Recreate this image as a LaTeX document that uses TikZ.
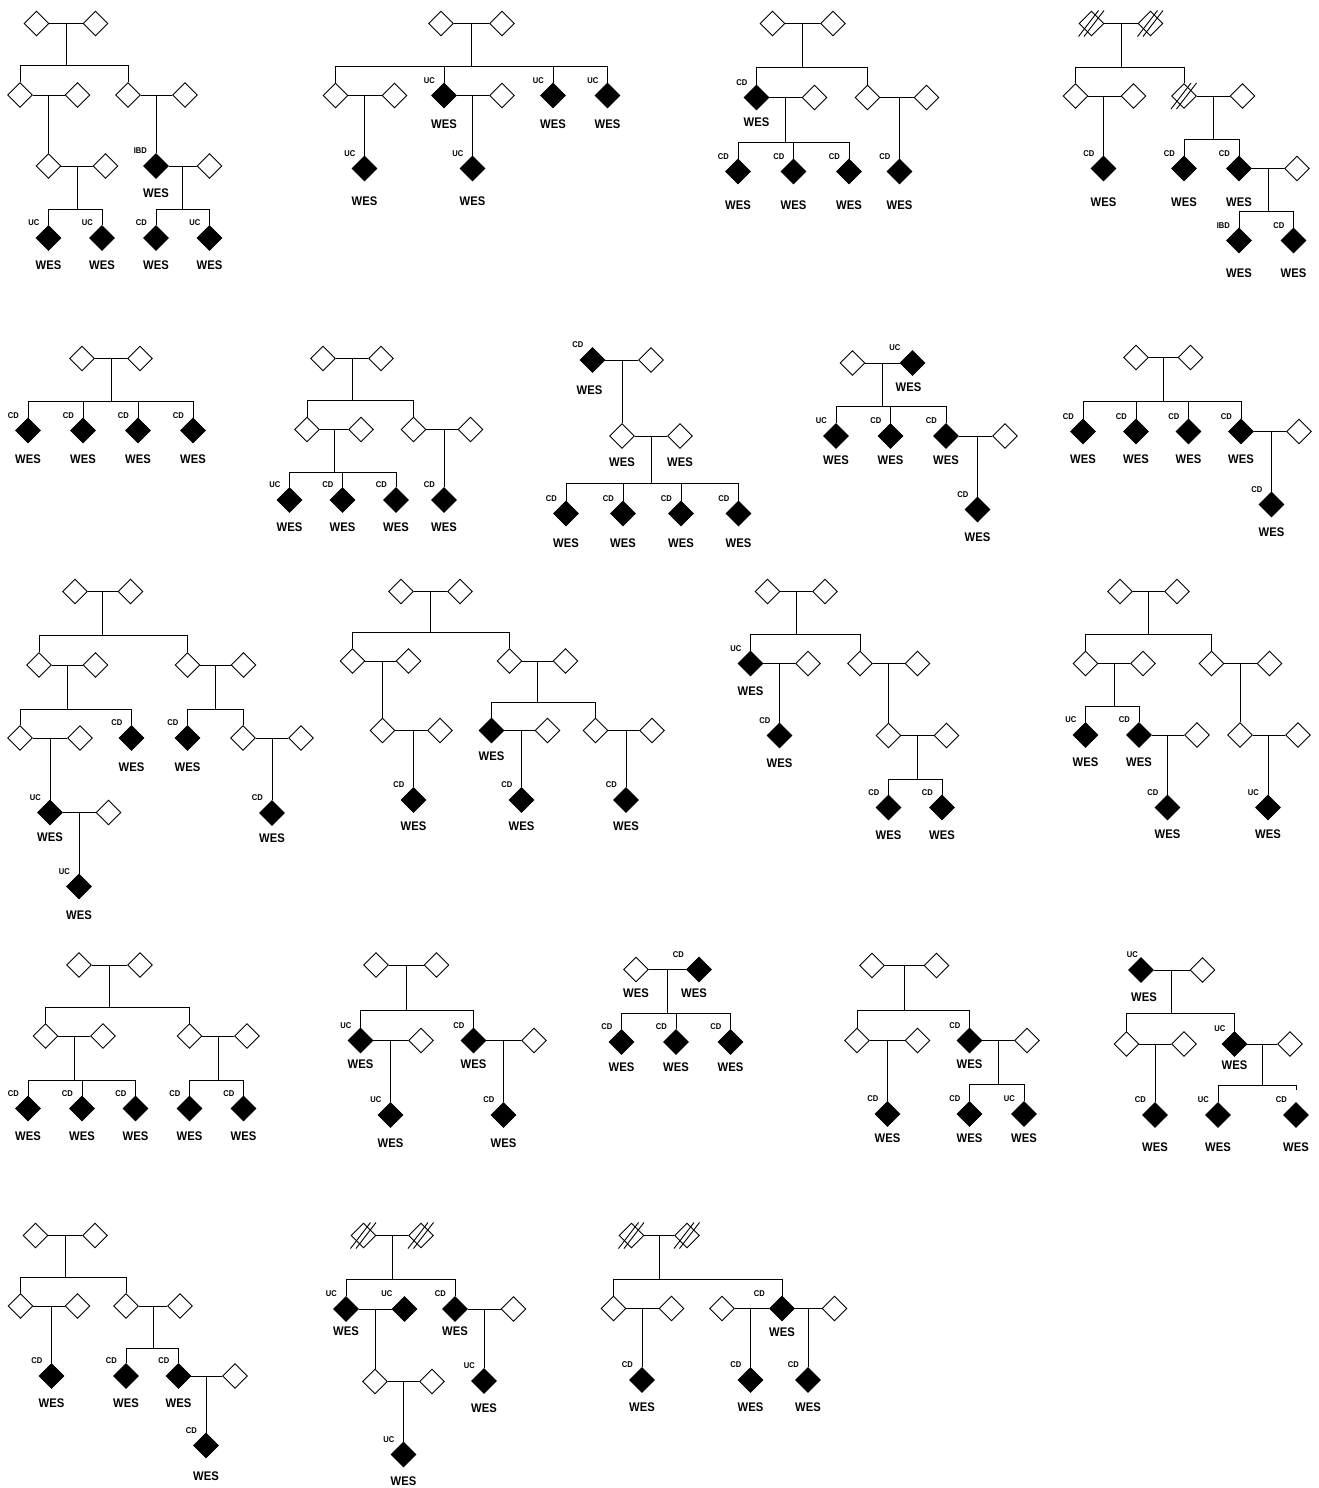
\documentclass[tikz,border=0pt]{standalone}
\usepackage{fontspec}
\usetikzlibrary{shapes.geometric,calc}
\newfontfamily\pedfont[FakeStretch=0.9]{Liberation Sans}
\newcommand\labfont{\pedfont\bfseries\fontsize{8.4}{9}\selectfont}
\newcommand\wesfont{\pedfont\bfseries\fontsize{12.5}{13}\selectfont}
\tikzset{
 ln/.style={line width=1pt},
 od/.style={shape=diamond, draw, line width=0.9pt, fill=white, inner sep=0pt, minimum width=25pt, minimum height=25pt},
 fd/.style={od, fill=black},
 lb/.style={font=\labfont, inner sep=0pt, anchor=east},
 wes/.style={font=\wesfont, inner sep=0pt},
 xl/.style={line width=0.9pt},
}
\newcommand\indO[3]{\node[od] (#1) at (#2,#3) {};}
\newcommand\indF[3]{\node[fd] (#1) at (#2,#3) {};}
\newcommand\lab[3][-9]{\node[lb] (#2l) at ([shift={(#1,-15)}]#2.center) {#3};}
\newcommand\wes[3][0]{\node[wes] (#2w) at ([shift={(#1,#3)}]#2.center) {WES};}
\newcommand\mar[2]{\draw[ln] (#1.east) -- (#2.west);}
\newcommand\kid[2]{\draw[ln] (#2.north) -- (#2.north |- #1.center);}
\newcommand\sib[4]{\coordinate (#1#2m) at ($(#1)!.5!(#2)$);
 \coordinate (#1#2s) at (#1#2m |- 0,#3);
 \draw[ln] (#1#2m) -- (#1#2s);
 \foreach \ch in {#4}{\draw[ln] (#1#2s) -| (\ch.north);}}
\newcommand\xed[1]{\draw[xl] ([shift={(-13,13)}]#1.center) -- ([shift={(7,-13)}]#1.center);
 \draw[xl] ([shift={(-7.5,13)}]#1.center) -- ([shift={(12.5,-13)}]#1.center);}
\begin{document}
\begin{tikzpicture}[x=1pt,y=-1pt]
\path[fill=white] (0,0) rectangle (1318,1488);
\useasboundingbox (0,0) rectangle (1318,1488);
% ---------- P1
\indO{a1}{36.5}{23.5}\indO{a2}{95.5}{23.5}
\indO{a3}{20}{95}\indO{a4}{77.5}{95}\indO{a5}{128}{95}\indO{a6}{185}{95}
\indO{a7}{48.5}{166}\indO{a8}{105.5}{166}
\indF{a9}{48.5}{238}\indF{a10}{102}{238}
\indF{a11}{156}{166}\indO{a12}{209.5}{166}
\indF{a13}{156}{238}\indF{a14}{209.5}{238}
\mar{a1}{a2}\mar{a3}{a4}\mar{a5}{a6}\mar{a7}{a8}\mar{a11}{a12}
\sib{a1}{a2}{66}{a3,a5}
\kid{a3}{a7}\kid{a5}{a11}
\sib{a7}{a8}{209}{a9,a10}
\sib{a11}{a12}{209}{a13,a14}
\lab{a9}{UC}\lab{a10}{UC}\lab{a11}{IBD}\lab{a13}{CD}\lab{a14}{UC}
\wes{a11}{27}\wes{a9}{27.5}\wes{a10}{27.5}\wes{a13}{27.5}\wes{a14}{27.5}
% ---------- P2
\indO{b1}{441}{23.5}\indO{b2}{502}{23.5}
\indO{b3}{335.5}{95.5}\indO{b4}{394.5}{95.5}\indF{b5}{444}{95.5}\indO{b6}{502}{95.5}
\indF{b7}{553}{95.5}\indF{b8}{607.5}{95.5}
\indF{b9}{364.5}{168.5}\indF{b10}{472.5}{168.5}
\mar{b1}{b2}\mar{b3}{b4}\mar{b5}{b6}
\sib{b1}{b2}{66.5}{b3,b5,b7,b8}
\kid{b3}{b9}\kid{b5}{b10}
\lab{b5}{UC}\lab{b7}{UC}\lab{b8}{UC}\lab{b9}{UC}\lab{b10}{UC}
\wes{b5}{28.5}\wes{b7}{28.5}\wes{b8}{28.5}\wes{b9}{32.5}\wes{b10}{32.5}
% ---------- P3
\indO{c1}{772.5}{23.5}\indO{c2}{833}{23.5}
\indF{c3}{756.5}{97.5}\indO{c4}{814.5}{97.5}\indO{c5}{867.5}{97.5}\indO{c6}{926.5}{97.5}
\indF{c7}{738}{171.5}\indF{c8}{793.5}{171.5}\indF{c9}{849}{171.5}\indF{c10}{899.5}{171.5}
\mar{c1}{c2}\mar{c3}{c4}\mar{c5}{c6}
\sib{c1}{c2}{67.5}{c3,c5}
\sib{c3}{c4}{142.5}{c7,c8,c9}
\kid{c5}{c10}
\lab{c3}{CD}\lab{c7}{CD}\lab{c8}{CD}\lab{c9}{CD}\lab{c10}{CD}
\wes{c3}{25}\wes{c7}{33.5}\wes{c8}{33.5}\wes{c9}{33.5}\wes{c10}{33.5}
% ---------- P4
\indO{d1}{1091.5}{23.5}\indO{d2}{1150.5}{23.5}
\indO{d3}{1075.5}{96}\indO{d4}{1133.5}{96}\indO{d5}{1184}{96}\indO{d6}{1242.5}{96}
\indF{d7}{1103.5}{168.5}\indF{d8}{1184}{168.5}\indF{d9}{1239}{168.5}\indO{d10}{1297}{168.5}
\indF{d11}{1239}{240.5}\indF{d12}{1293.5}{240.5}
\mar{d1}{d2}\mar{d3}{d4}\mar{d5}{d6}\mar{d9}{d10}
\sib{d1}{d2}{67.5}{d3,d5}
\kid{d3}{d7}
\sib{d5}{d6}{139.5}{d8,d9}
\sib{d9}{d10}{211.5}{d11,d12}
\xed{d1}\xed{d2}\xed{d5}
\lab{d7}{CD}\lab{d8}{CD}\lab{d9}{CD}\lab{d11}{IBD}\lab{d12}{CD}
\wes{d7}{34}\wes{d8}{34}\wes{d9}{34}\wes{d11}{33}\wes{d12}{33}
% ---------- P5
\indO{e1}{82}{358.5}\indO{e2}{140}{358.5}
\indF{e3}{28}{430.5}\indF{e4}{83}{430.5}\indF{e5}{138}{430.5}\indF{e6}{193}{430.5}
\mar{e1}{e2}
\sib{e1}{e2}{401.5}{e3,e4,e5,e6}
\lab{e3}{CD}\lab{e4}{CD}\lab{e5}{CD}\lab{e6}{CD}
\wes{e3}{28.5}\wes{e4}{28.5}\wes{e5}{28.5}\wes{e6}{28.5}
% ---------- P6
\indO{f1}{323}{358.5}\indO{f2}{381}{358.5}
\indO{f3}{307}{429.5}\indO{f4}{361}{429.5}\indO{f5}{413.5}{429.5}\indO{f6}{470.5}{429.5}
\indF{f7}{289.5}{500}\indF{f8}{342.5}{500}\indF{f9}{396}{500}\indF{f10}{444}{500}
\mar{f1}{f2}\mar{f3}{f4}\mar{f5}{f6}
\sib{f1}{f2}{400.5}{f3,f5}
\sib{f3}{f4}{472.5}{f7,f8,f9}
\kid{f5}{f10}
\lab{f7}{UC}\lab{f8}{CD}\lab{f9}{CD}\lab{f10}{CD}
\wes{f7}{27.5}\wes{f8}{27.5}\wes{f9}{27.5}\wes{f10}{27.5}
% ---------- P7
\indF{g1}{592.5}{360}\indO{g2}{651}{360}
\indO{g3}{622}{436}\indO{g4}{680}{436}
\indF{g5}{566}{513.5}\indF{g6}{623}{513.5}\indF{g7}{681}{513.5}\indF{g8}{738.5}{513.5}
\mar{g1}{g2}\mar{g3}{g4}
\kid{g1}{g3}
\sib{g3}{g4}{483.5}{g5,g6,g7,g8}
\lab{g1}{CD}\lab{g5}{CD}\lab{g6}{CD}\lab{g7}{CD}\lab{g8}{CD}
\wes[-3]{g1}{30.5}\wes{g3}{26}\wes{g4}{26}\wes{g5}{30}\wes{g6}{30}\wes{g7}{30}\wes{g8}{30}
% ---------- P8
\indO{h1}{852.5}{363}\indF{h2}{912.5}{363}
\indF{h3}{836}{436}\indF{h4}{890.5}{436}\indF{h5}{946}{436}\indO{h6}{1005}{436}
\indF{h7}{977.5}{509.5}
\mar{h1}{h2}\mar{h5}{h6}
\sib{h1}{h2}{406.5}{h3,h4,h5}
\kid{h5}{h7}
\lab[-12]{h2}{UC}\lab{h3}{UC}\lab{h4}{CD}\lab{h5}{CD}\lab{h7}{CD}
\wes[-4]{h2}{24}\wes{h3}{24}\wes{h4}{24}\wes{h5}{24}\wes{h7}{28}
% ---------- P9
\indO{i1}{1136}{357.5}\indO{i2}{1190.5}{357.5}
\indF{i3}{1083}{431.5}\indF{i4}{1136}{431.5}\indF{i5}{1188.5}{431.5}\indF{i6}{1241}{431.5}
\indO{i7}{1299}{431.5}\indF{i8}{1271.5}{504.5}
\mar{i1}{i2}\mar{i6}{i7}
\sib{i1}{i2}{401.5}{i3,i4,i5,i6}
\kid{i6}{i8}
\lab{i3}{CD}\lab{i4}{CD}\lab{i5}{CD}\lab{i6}{CD}\lab{i8}{CD}
\wes{i3}{28}\wes{i4}{28}\wes{i5}{28}\wes{i6}{28}\wes{i8}{28}
% ---------- P10
\indO{j1}{75}{591.5}\indO{j2}{130.5}{591.5}
\indO{j3}{39}{665}\indO{j4}{95.5}{665}\indO{j5}{187.5}{665}\indO{j6}{243.5}{665}
\indO{j7}{20}{738}\indO{j8}{80}{738}\indF{j9}{131.5}{738}
\indF{j10}{50}{812.5}\indO{j11}{108.5}{812.5}\indF{j12}{79}{886.5}
\indF{j13}{187.5}{738}\indO{j14}{243}{738}\indO{j15}{301}{738}\indF{j16}{272}{813}
\mar{j1}{j2}\mar{j3}{j4}\mar{j5}{j6}\mar{j7}{j8}\mar{j10}{j11}\mar{j14}{j15}
\sib{j1}{j2}{635.5}{j3,j5}
\sib{j3}{j4}{709.5}{j7,j9}
\sib{j5}{j6}{709.5}{j13,j14}
\kid{j7}{j10}\kid{j10}{j12}\kid{j14}{j16}
\lab{j9}{CD}\lab{j10}{UC}\lab{j12}{UC}\lab{j13}{CD}\lab{j16}{CD}
\wes{j9}{29.5}\wes{j10}{25}\wes{j12}{29}\wes{j13}{29.5}\wes{j16}{25}
% ---------- P11
\indO{k1}{401}{591.5}\indO{k2}{460}{591.5}
\indO{k3}{352.5}{661}\indO{k4}{408.5}{661}\indO{k5}{509.5}{661}\indO{k6}{565.5}{661}
\indO{k7}{382.5}{730.5}\indO{k8}{440}{730.5}\indF{k9}{413.5}{800}
\indF{k10}{491.5}{730.5}\indO{k11}{547.5}{730.5}\indF{k13}{521.5}{800}
\indO{k12}{595.5}{730.5}\indO{k14}{652}{730.5}\indF{k15}{626}{800}
\mar{k1}{k2}\mar{k3}{k4}\mar{k5}{k6}\mar{k7}{k8}\mar{k10}{k11}\mar{k12}{k14}
\sib{k1}{k2}{632.5}{k3,k5}
\kid{k3}{k7}\kid{k7}{k9}
\sib{k5}{k6}{702.5}{k10,k12}
\kid{k10}{k13}\kid{k12}{k15}
\lab{k9}{CD}\lab{k13}{CD}\lab{k15}{CD}
\wes{k9}{26}\wes{k10}{25.5}\wes{k13}{26}\wes{k15}{26}
% ---------- P12
\indO{l1}{767.5}{591.5}\indO{l2}{825}{591.5}
\indF{l3}{750.5}{663.5}\indO{l4}{808}{663.5}\indO{l5}{860}{663.5}\indO{l6}{917.5}{663.5}
\indF{l7}{779.5}{735.5}\indO{l8}{888.5}{735.5}\indO{l9}{946.5}{735.5}
\indF{l10}{888.5}{807.5}\indF{l11}{942}{807.5}
\mar{l1}{l2}\mar{l3}{l4}\mar{l5}{l6}\mar{l8}{l9}
\sib{l1}{l2}{634.5}{l3,l5}
\kid{l3}{l7}\kid{l5}{l8}
\sib{l8}{l9}{779}{l10,l11}
\lab{l3}{UC}\lab{l7}{CD}\lab{l10}{CD}\lab{l11}{CD}
\wes{l3}{27.5}\wes{l7}{27.5}\wes{l10}{28}\wes{l11}{28}
% ---------- P13
\indO{m1}{1120}{591.5}\indO{m2}{1177}{591.5}
\indO{m3}{1085.5}{663.5}\indO{m4}{1143}{663.5}\indO{m5}{1211.5}{663.5}\indO{m6}{1269.5}{663.5}
\indF{m7}{1085.5}{735}\indF{m8}{1139}{735}\indO{m9}{1197}{735}\indF{m10}{1167.5}{807.5}
\indO{m11}{1240}{735}\indO{m12}{1298}{735}\indF{m13}{1268}{807.5}
\mar{m1}{m2}\mar{m3}{m4}\mar{m5}{m6}\mar{m8}{m9}\mar{m11}{m12}
\sib{m1}{m2}{634.5}{m3,m5}
\sib{m3}{m4}{706}{m7,m8}
\kid{m8}{m10}\kid{m5}{m11}\kid{m11}{m13}
\lab{m7}{UC}\lab{m8}{CD}\lab{m10}{CD}\lab{m13}{UC}
\wes{m7}{27}\wes{m8}{27}\wes{m10}{26.5}\wes{m13}{26.5}
% ---------- P14
\indO{n1}{79}{965}\indO{n2}{140}{965}
\indO{n3}{45.5}{1036}\indO{n4}{103}{1036}\indO{n5}{189.5}{1036}\indO{n6}{247}{1036}
\indF{n7}{28}{1108.5}\indF{n8}{82}{1108.5}\indF{n9}{135.5}{1108.5}
\indF{n10}{189.5}{1108.5}\indF{n11}{243.5}{1108.5}
\mar{n1}{n2}\mar{n3}{n4}\mar{n5}{n6}
\sib{n1}{n2}{1007.5}{n3,n5}
\sib{n3}{n4}{1080}{n7,n8,n9}
\sib{n5}{n6}{1080}{n10,n11}
\lab{n7}{CD}\lab{n8}{CD}\lab{n9}{CD}\lab{n10}{CD}\lab{n11}{CD}
\wes{n7}{28}\wes{n8}{28}\wes{n9}{28}\wes{n10}{28}\wes{n11}{28}
% ---------- P15
\indO{o1}{376}{965}\indO{o2}{436.5}{965}
\indF{o3}{360.5}{1040.5}\indO{o4}{421}{1040.5}\indF{o5}{473.5}{1040.5}\indO{o6}{534}{1040.5}
\indF{o7}{390.5}{1115}\indF{o8}{503.5}{1115}
\mar{o1}{o2}\mar{o3}{o4}\mar{o5}{o6}
\sib{o1}{o2}{1010}{o3,o5}
\kid{o3}{o7}\kid{o5}{o8}
\lab{o3}{UC}\lab{o5}{CD}\lab{o7}{UC}\lab{o8}{CD}
\wes{o3}{23.5}\wes{o5}{23.5}\wes{o7}{28.5}\wes{o8}{28.5}
% ---------- P16
\indO{q1}{636}{969.5}\indF{q2}{699}{969.5}
\indF{q3}{621.5}{1042}\indF{q4}{676}{1042}\indF{q5}{730.5}{1042}
\mar{q1}{q2}
\sib{q1}{q2}{1013.5}{q3,q4,q5}
\lab[-15]{q2}{CD}\lab{q3}{CD}\lab{q4}{CD}\lab{q5}{CD}
\wes{q1}{24}\wes[-5]{q2}{24}\wes{q3}{25}\wes{q4}{25}\wes{q5}{25}
% ---------- P17
\indO{r1}{872}{965.5}\indO{r2}{936.5}{965.5}
\indO{r3}{857}{1040.5}\indO{r4}{917.5}{1040.5}\indF{r5}{969.5}{1040.5}\indO{r6}{1027}{1040.5}
\indF{r7}{887.5}{1114}\indF{r8}{969.5}{1114}\indF{r9}{1024}{1114}
\mar{r1}{r2}\mar{r3}{r4}\mar{r5}{r6}
\sib{r1}{r2}{1010}{r3,r5}
\kid{r3}{r7}
\sib{r5}{r6}{1084}{r8,r9}
\lab{r5}{CD}\lab{r7}{CD}\lab{r8}{CD}\lab{r9}{UC}
\wes{r5}{23.5}\wes{r7}{24.5}\wes{r8}{24.5}\wes{r9}{24.5}
% ---------- P18
\indF{t1}{1141}{970}\indO{t2}{1202.5}{970}
\indO{t3}{1126.5}{1044}\indO{t4}{1184}{1044}\indF{t5}{1234.5}{1044}\indO{t6}{1290}{1044}
\indF{t7}{1155}{1115}\indF{t8}{1218}{1115}\indF{t9}{1296}{1115}
\mar{t1}{t2}\mar{t3}{t4}\mar{t5}{t6}
\sib{t1}{t2}{1013.5}{t3,t5}
\kid{t3}{t7}
\sib{t5}{t6}{1085}{t8}
\coordinate (t9s) at (t9.north |- 0,1090);
\draw[ln] (t5t6s) -| (t9s);
\lab[-3]{t1}{UC}\lab{t5}{UC}\lab{t7}{CD}\lab{t8}{UC}\lab{t9}{CD}
\wes[3]{t1}{27}\wes{t5}{21}\wes{t7}{32}\wes{t8}{32}\wes{t9}{32}
% ---------- P19
\indO{u1}{35.5}{1235.5}\indO{u2}{95}{1235.5}
\indO{u3}{20.5}{1306}\indO{u4}{77.5}{1306}\indO{u5}{126}{1306}\indO{u6}{180}{1306}
\indF{u7}{51.5}{1376}\indF{u8}{126}{1376}\indF{u9}{178.5}{1376}\indO{u10}{235}{1376}
\indF{u11}{206}{1445.5}
\mar{u1}{u2}\mar{u3}{u4}\mar{u5}{u6}\mar{u9}{u10}
\sib{u1}{u2}{1277.5}{u3,u5}
\kid{u3}{u7}
\sib{u5}{u6}{1348.5}{u8,u9}
\kid{u9}{u11}
\lab{u7}{CD}\lab{u8}{CD}\lab{u9}{CD}\lab{u11}{CD}
\wes{u7}{27.5}\wes{u8}{27.5}\wes{u9}{27.5}\wes{u11}{31}
% ---------- P20
\indO{v1}{363.5}{1235.5}\indO{v2}{421}{1235.5}
\indF{v3}{346}{1309}\indF{v4}{404.5}{1309}\indF{v5}{455}{1309}\indO{v6}{513.5}{1309}
\indO{v7}{375}{1381.5}\indO{v8}{432}{1381.5}\indF{v9}{403.5}{1454.5}
\indF{v10}{484}{1381}
\mar{v1}{v2}\mar{v3}{v4}\mar{v5}{v6}\mar{v7}{v8}
\sib{v1}{v2}{1279.5}{v3,v5}
\kid{v3}{v7}\kid{v7}{v9}\kid{v5}{v10}
\xed{v1}\xed{v2}
\lab{v3}{UC}\lab[-12]{v4}{UC}\lab{v5}{CD}\lab{v9}{UC}\lab{v10}{UC}
\wes{v3}{22.5}\wes{v5}{22.5}\wes{v9}{26.5}\wes{v10}{27}
% ---------- P21
\indO{w1}{631.5}{1235.5}\indO{w2}{687}{1235.5}
\indO{w3}{613.5}{1308.5}\indO{w4}{671.5}{1308.5}\indO{w5}{722}{1308.5}\indF{w6}{782}{1308.5}\indO{w7}{834.5}{1308.5}
\indF{w8}{642}{1380}\indF{w9}{750.5}{1380}\indF{w10}{808}{1380}
\mar{w1}{w2}\mar{w3}{w4}\mar{w5}{w6}\mar{w6}{w7}
\sib{w1}{w2}{1279}{w3,w6}
\kid{w3}{w8}\kid{w5}{w9}\kid{w6}{w10}
\xed{w1}\xed{w2}
\lab[-17]{w6}{CD}\lab{w8}{CD}\lab{w9}{CD}\lab{w10}{CD}
\wes{w6}{23.5}\wes{w8}{27.5}\wes{w9}{27.5}\wes{w10}{27.5}
\end{tikzpicture}
\end{document}
